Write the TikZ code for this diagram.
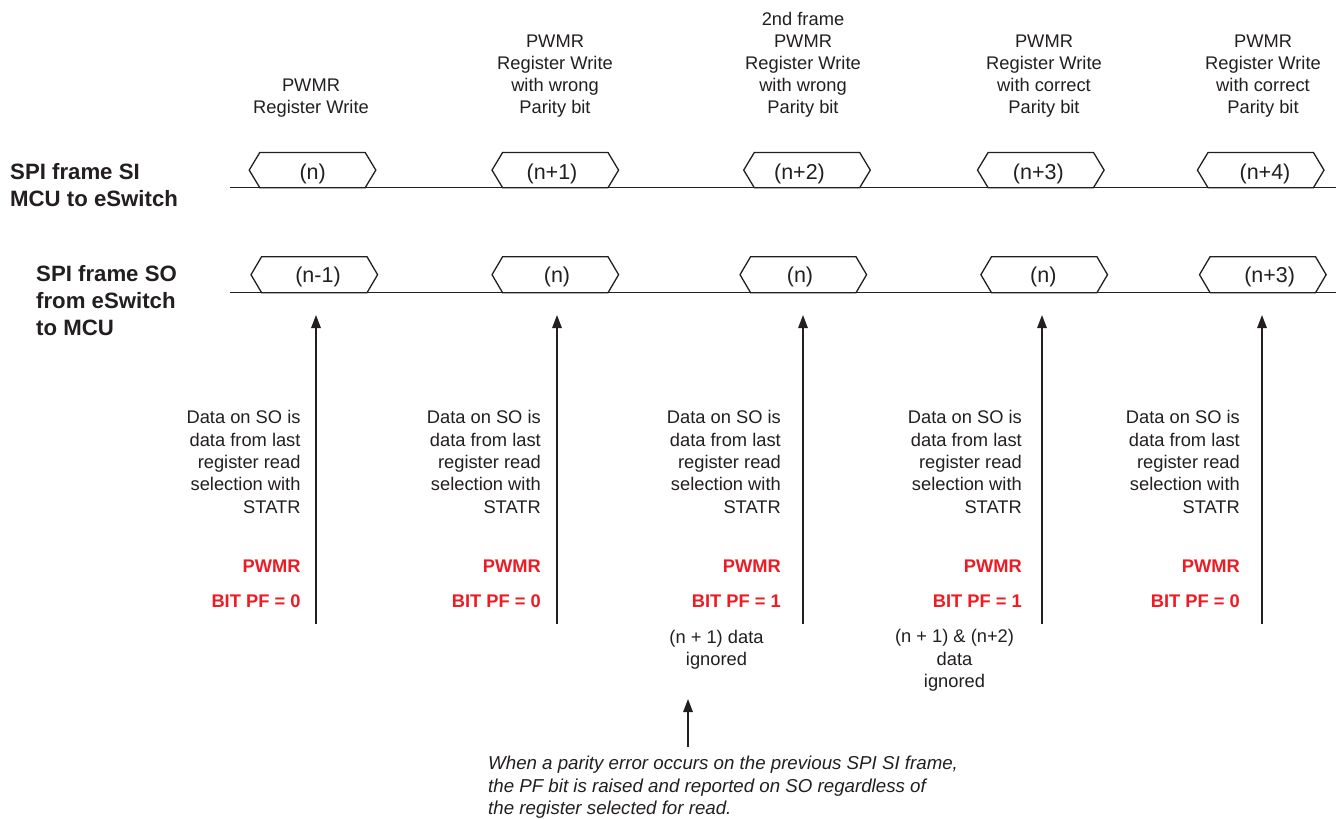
\documentclass[tikz,border=0pt]{standalone}
\usepackage{fontspec}
\setmainfont{Liberation Sans}
\usetikzlibrary{arrows.meta}
\definecolor{ink}{HTML}{231F20}
\definecolor{alert}{HTML}{ED1C24}
\tikzset{
  lane/.style={draw=ink, line width=1.4pt},
  hexline/.style={draw=ink, line width=1.3pt, line join=miter},
  hextext/.style={font=\fontsize{21.5}{25}\selectfont, text=ink, anchor=base, inner sep=0pt},
  siglabel/.style={font=\fontsize{22.2}{27}\selectfont\bfseries, text=ink, align=left, anchor=north west, inner sep=0pt},
  toplabel/.style={font=\fontsize{18.3}{22}\selectfont, text=ink, align=center, anchor=south, inner sep=0pt},
  sonote/.style={font=\fontsize{18.3}{22.3}\selectfont, text=ink, align=right, anchor=north east, inner sep=0pt},
  flag/.style={font=\fontsize{18.3}{22}\selectfont\bfseries, text=alert, anchor=base east, inner sep=0pt},
  ignnote/.style={font=\fontsize{18.3}{22.5}\selectfont, text=ink, align=center, anchor=north, inner sep=0pt},
  itnote/.style={font=\fontsize{18.7}{22.6}\selectfont\itshape, text=ink, align=left, anchor=north west, inner sep=0pt},
  ptr/.style={draw=ink, line width=1.4pt, -{Triangle[length=13pt,width=9.5pt]}}
}
\begin{document}
\begin{tikzpicture}[x=1pt,y=-1pt]
\useasboundingbox (0,0) rectangle (1336,819);
\fill[white] (0,0) rectangle (1336,819);

% signal labels
\node[siglabel] (lsi) at (10,163.3) {SPI frame SI\\MCU to eSwitch};
\node[siglabel] (lso) at (36,265.7) {SPI frame SO\\from eSwitch\\to MCU};

% lanes
\coordinate (siA) at (230,187.7);
\coordinate (siB) at (1336,187.7);
\coordinate (soA) at (230,292.7);
\coordinate (soB) at (1336,292.7);
\draw[lane] (siA) -- (siB);
\draw[lane] (soA) -- (soB);

% SI frames
\foreach \cx/\tx/\lab [count=\i] in {312.5/312.7/{(n)}, 555.3/552/{(n+1)}, 807/799.5/{(n+2)}, 1040.8/1038.3/{(n+3)}, 1260.7/1265/{(n+4)}} {
  \draw[hexline] (\cx-63.3,170.1) -- (\cx-52.7,152.5) -- (\cx+52.7,152.5) -- (\cx+63.3,170.1) -- (\cx+52.7,187.7) -- (\cx-52.7,187.7) -- cycle;
  \node[hextext] (si\i) at (\tx,179) {\lab};
}
% SO frames
\foreach \cx/\tx/\lab [count=\i] in {314.3/318/{(n-1)}, 555.3/557/{(n)}, 803.3/800/{(n)}, 1044.2/1043.3/{(n)}, 1262.8/1269.7/{(n+3)}} {
  \draw[hexline] (\cx-63.3,274.7) -- (\cx-52.7,256.7) -- (\cx+52.7,256.7) -- (\cx+63.3,274.7) -- (\cx+52.7,292.7) -- (\cx-52.7,292.7) -- cycle;
  \node[hextext] (so\i) at (\tx,282.3) {\lab};
}

% top labels
\node[toplabel] (t1) at (311,117) {PWMR\\Register Write};
\node[toplabel] (t2) at (555,117) {PWMR\\Register Write\\with wrong\\Parity bit};
\node[toplabel] (t3) at (803,117) {2nd frame\\PWMR\\Register Write\\with wrong\\Parity bit};
\node[toplabel] (t4) at (1044,117) {PWMR\\Register Write\\with correct\\Parity bit};
\node[toplabel] (t5) at (1263,117) {PWMR\\Register Write\\with correct\\Parity bit};

% columns: arrows and notes
\foreach \ax/\rx/\pf [count=\i] in {316/300.7/0, 557/541/0, 803/781/1, 1042/1022/1, 1262/1240/0} {
  \coordinate (ab\i) at (\ax,623.5);
  \coordinate (at\i) at (\ax,315);
  \draw[ptr] (ab\i) -- (at\i);
  \node[sonote] (d\i) at (\rx,410.5) {Data on SO is\\data from last\\register read\\selection with\\STATR};
  \node[flag] (p\i) at (\rx,572) {PWMR};
  \node[flag] (b\i) at (\rx,607) {BIT PF = \pf};
}

% ignored notes
\node[ignnote] (ig1) at (716.5,629.7) {(n + 1) data\\ignored};
\node[ignnote] (ig2) at (954.5,629.2) {(n + 1) \& (n+2)\\data\\ignored};

% bottom explanation
\coordinate (eb) at (688,747);
\coordinate (et) at (688,699);
\draw[ptr] (eb) -- (et);
\node[itnote] (expl) at (488,755.7) {When a parity error occurs on the previous SPI SI frame,\\the PF bit is raised and reported on SO regardless of\\the register selected for read.};
\end{tikzpicture}
\end{document}
